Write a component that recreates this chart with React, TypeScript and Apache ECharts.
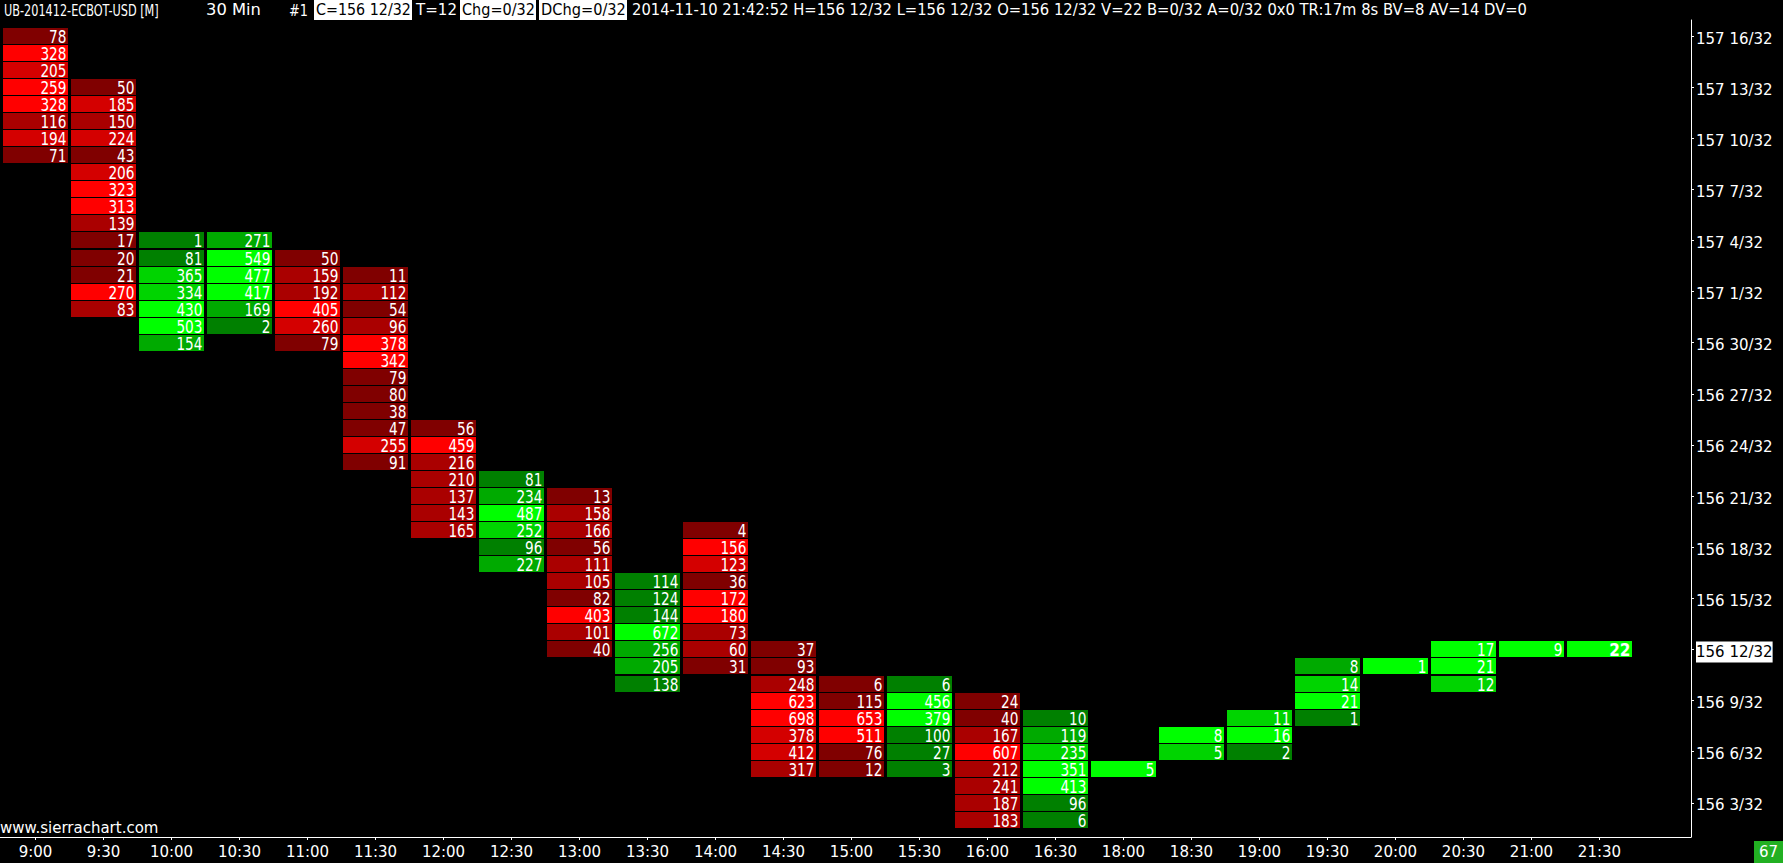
import React, { useEffect, useRef } from 'react';
import * as echarts from 'echarts';

// ---- data ----
const times = ['9:00', '9:30', '10:00', '10:30', '11:00', '11:30', '12:00', '12:30', '13:00', '13:30', '14:00', '14:30', '15:00', '15:30', '16:00', '16:30', '18:00', '18:30', '19:00', '19:30', '20:00', '20:30', '21:00', '21:30'];
// highest traded price of every bar, in 32nds above 156
const barHigh = [48, 45, 36, 36, 35, 34, 25, 22, 21, 16, 19, 12, 10, 10, 9, 8, 5, 7, 8, 11, 11, 12, 12, 12];
// 1 = up bar (green), 0 = down bar (red)
const barUp = [0, 0, 1, 1, 0, 0, 0, 1, 0, 1, 0, 0, 0, 1, 0, 1, 1, 1, 1, 1, 1, 1, 1, 1];
// volume at each price, from the bar high downwards
const v0900 = [78, 328, 205, 259, 328, 116, 194, 71];
const v0930 = [50, 185, 150, 224, 43, 206, 323, 313, 139, 17, 20, 21, 270, 83];
const v1000 = [1, 81, 365, 334, 430, 503, 154];
const v1030 = [271, 549, 477, 417, 169, 2];
const v1100 = [50, 159, 192, 405, 260, 79];
const v1130 = [11, 112, 54, 96, 378, 342, 79, 80, 38, 47, 255, 91];
const v1200 = [56, 459, 216, 210, 137, 143, 165];
const v1230 = [81, 234, 487, 252, 96, 227];
const v1300 = [13, 158, 166, 56, 111, 105, 82, 403, 101, 40];
const v1330 = [114, 124, 144, 672, 256, 205, 138];
const v1400 = [4, 156, 123, 36, 172, 180, 73, 60, 31];
const v1430 = [37, 93, 248, 623, 698, 378, 412, 317];
const v1500 = [6, 115, 653, 511, 76, 12];
const v1530 = [6, 456, 379, 100, 27, 3];
const v1600 = [24, 40, 167, 607, 212, 241, 187, 183];
const v1630 = [10, 119, 235, 351, 413, 96, 6];
const v1800 = [5];
const v1830 = [8, 5];
const v1900 = [11, 16, 2];
const v1930 = [8, 14, 21, 1];
const v2000 = [1];
const v2030 = [17, 21, 12];
const v2100 = [9];
const v2130 = [22];
const barVolumes = [v0900, v0930, v1000, v1030, v1100, v1130, v1200, v1230, v1300, v1330, v1400, v1430, v1500, v1530, v1600, v1630, v1800, v1830, v1900, v1930, v2000, v2030, v2100, v2130];

const priceTicks = [3, 6, 9, 12, 15, 18, 21, 24, 27, 30, 33, 36, 39, 42, 45, 48];
const lastPrice = 12;
const basePrice = 156;

const headerParts = [
  'UB-201412-ECBOT-USD [M]',
  '30 Min',
  '#1',
  'C=156 12/32',
  'T=12',
  'Chg=0/32',
  'DChg=0/32',
  '2014-11-10 21:42:52 H=156 12/32 L=156 12/32 O=156 12/32 V=22 B=0/32 A=0/32 0x0 TR:17m 8s BV=8 AV=14 DV=0',
];
const footerText = 'www.sierrachart.com';
const cornerValue = '67';

// ---- styles / layout ----
const W = 1783;
const H = 863;
const FONT = 'DejaVu Sans';
const RED = ['#800000', '#aa0000', '#d40000', '#ff0000'];
const GREEN = ['#008000', '#00aa00', '#00d400', '#00ff00'];
// [left, right, boxed]
const headerPos: [number, number, boolean][] = [
  [4, 159, false],
  [206, 261, false],
  [289, 308, false],
  [316, 411, true],
  [416, 457, false],
  [462, 535, true],
  [541, 626, true],
  [632, 1528, false],
];

const fmtPrice = (v: number) => `${basePrice + Math.floor(v / 32)} ${v % 32}/32`;

let measureCtx: CanvasRenderingContext2D | null = null;
function textWidth(t: string, font: string) {
  if (!measureCtx) measureCtx = document.createElement('canvas').getContext('2d');
  measureCtx!.font = font;
  return measureCtx!.measureText(t).width;
}

function buildData() {
  const out: number[][] = [];
  barVolumes.forEach((vols, i) => {
    const mx = Math.max(...vols);
    vols.forEach((v, j) => {
      const r = v / mx;
      const lvl = r > 0.75 ? 3 : r > 0.5 ? 2 : r > 0.25 ? 1 : 0;
      const last = i === barVolumes.length - 1 && barHigh[i] - j === lastPrice ? 1 : 0;
      out.push([i, barHigh[i] - j, v, lvl, barUp[i], last]);
    });
  });
  return out;
}

function buildOption() {
  const headerFont = `16px "${FONT}"`;
  const graphics: any[] = [];
  headerParts.forEach((t, k) => {
    const [x0, x1, boxed] = headerPos[k];
    if (boxed) {
      graphics.push({ type: 'rect', shape: { x: x0 - 2, y: 0, width: x1 - x0 + 3, height: 20 }, style: { fill: '#ffffff' } });
    }
    const sx = (x1 - x0) / textWidth(t, headerFont);
    graphics.push({
      type: 'text', x: x0, y: 10, scaleX: sx,
      style: { text: t, fill: boxed ? '#000000' : '#ffffff', fontSize: 16, fontFamily: FONT, align: 'left', verticalAlign: 'middle' },
    });
  });
  graphics.push({
    type: 'text', x: 0, y: 828,
    style: { text: footerText, fill: '#ffffff', fontSize: 15, fontFamily: FONT, align: 'left', verticalAlign: 'middle' },
  });
  graphics.push({ type: 'rect', shape: { x: 1754, y: 841, width: 29, height: 22 }, style: { fill: '#22b022' } });
  graphics.push({
    type: 'text', x: 1768.5, y: 852,
    style: { text: cornerValue, fill: '#ffffff', fontSize: 15, fontFamily: FONT, align: 'center', verticalAlign: 'middle' },
  });

  return {
    animation: false,
    backgroundColor: '#000000',
    grid: { left: 0, right: 92, top: 20, bottom: 26 },
    xAxis: {
      type: 'value',
      min: -0.522,
      max: 24.346,
      axisLine: { show: true, onZero: false, lineStyle: { color: '#ffffff', width: 1 } },
      axisTick: { show: true, length: 3, lineStyle: { color: '#ffffff' }, customValues: times.map((_, i) => i) },
      splitLine: { show: false },
      axisLabel: {
        color: '#ffffff', fontFamily: FONT, fontSize: 15, margin: 7,
        customValues: times.map((_, i) => i),
        formatter: (v: number) => times[Math.round(v)] ?? '',
      },
    },
    yAxis: {
      type: 'value',
      position: 'right',
      min: 0.993,
      max: 48.939,
      axisLine: { show: true, onZero: false, lineStyle: { color: '#ffffff', width: 1 } },
      axisTick: { show: true, inside: false, length: 3, lineStyle: { color: '#ffffff' }, customValues: priceTicks },
      splitLine: { show: false },
      axisLabel: {
        color: '#ffffff', fontFamily: FONT, fontSize: 15, margin: 5,
        padding: [5, 0, 0, 0],
        customValues: priceTicks,
        formatter: (v: number) => (v === lastPrice ? `{hl|${fmtPrice(v)}}` : fmtPrice(v)),
        rich: {
          hl: { backgroundColor: '#ffffff', color: '#000000', fontFamily: FONT, fontSize: 15, padding: [3, 0, 3, 0] },
        },
      },
    },
    series: [
      {
        type: 'custom',
        clip: false,
        encode: { x: 0, y: 1 },
        data: buildData(),
        renderItem: (_params: any, api: any) => {
          const c = api.coord([api.value(0), api.value(1)]);
          const s = api.size([1, 1]);
          const w = Math.round(s[0]) - 3;
          const h = 16;
          const left = Math.round(c[0] - w / 2);
          const top = Math.round(c[1] - h / 2);
          const lvl = api.value(3);
          const up = api.value(4);
          const last = api.value(5);
          const fill = (up ? GREEN : RED)[lvl];
          const txt = String(api.value(2));
          return {
            type: 'group',
            children: [
              { type: 'rect', shape: { x: left, y: top, width: w, height: h }, style: { fill } },
              {
                type: 'text', x: left + w - 1.5, y: top + h / 2 + 1,
                scaleX: last ? 0.85 : 0.76,
                style: {
                  text: txt, fill: '#ffffff', fontSize: 18, fontFamily: FONT,
                  fontWeight: last ? 'bold' : 'normal', align: 'right', verticalAlign: 'middle',
                },
              },
            ],
          };
        },
      },
    ],
    graphic: graphics,
  };
}

export default function App() {
  const ref = useRef<HTMLDivElement>(null);
  useEffect(() => {
    const el = ref.current!;
    const chart = echarts.init(el, null, { renderer: 'svg', width: W, height: H });
    chart.setOption(buildOption() as any);
    return () => chart.dispose();
  }, []);
  return (
    <div
      ref={ref}
      style={{ position: 'absolute', left: 0, top: 0, width: W, height: H, background: '#000000' }}
    />
  );
}
